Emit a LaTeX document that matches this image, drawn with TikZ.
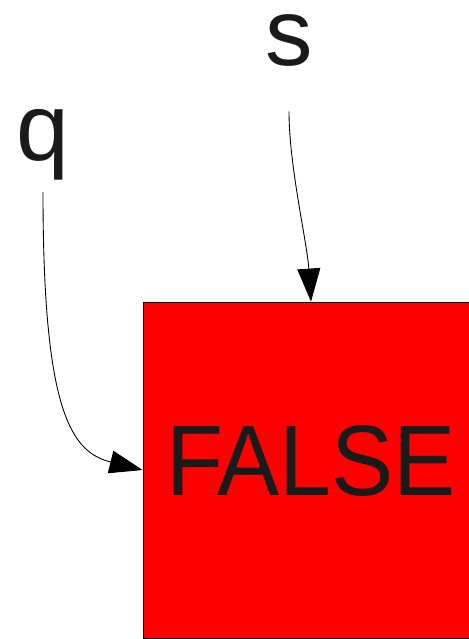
\documentclass[tikz,border=0pt]{standalone}
\usepackage{fontspec}
\setmainfont{Liberation Sans}
\usetikzlibrary{arrows.meta}
\definecolor{inkgray}{HTML}{1A1A1A}
\definecolor{boxred}{HTML}{FF0000}
\tikzstyle{varname} = [
    inner sep=0pt,
    anchor=base,
    text=inkgray,
    font=\fontsize{54}{54}\selectfont
]
\tikzstyle{valuebox} = [
    rectangle,
    fill=boxred,
    draw=black,
    line width=0.5pt,
    minimum width=6.72cm,
    minimum height=6.72cm
]
\tikzstyle{valuetext} = [
    inner sep=0pt,
    text=inkgray,
    xscale=0.93,
    font=\fontsize{57}{57}\selectfont
]
\tikzstyle{arrow} = [line width=0.5pt, -{Triangle[length=0.66cm, width=0.46cm]}]

\begin{document}
\begin{tikzpicture}[x=0.02cm, y=-0.02cm]
\useasboundingbox (0,0) rectangle (469,639);
\clip (0,0) rectangle (469,639);

\node (s) [varname] at (289,65) {s};
\node (q) [varname] at (43,160) {q};

\node (box) [valuebox] at (311,470) {};
\node (value) [valuetext] at (311,461) {FALSE};

\draw [arrow, shorten <=0.9cm] (s.south)
    .. controls +(0,100) and +(-4,-60) .. (box.north);
\draw [arrow, shorten <=0.24cm] (q.south)
    .. controls +(0,230) and +(-72,-18) .. (box.west);

\end{tikzpicture}
\end{document}
